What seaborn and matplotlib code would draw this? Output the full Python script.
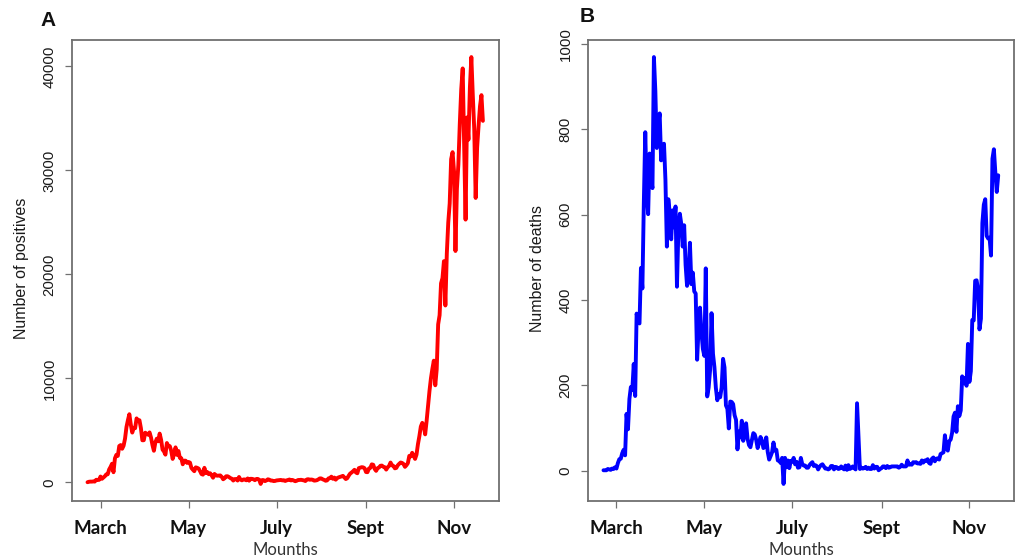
import matplotlib
matplotlib.use("Agg")
import matplotlib.pyplot as plt
import matplotlib.dates as mdates
import numpy as np
import pandas as pd
import seaborn as sns

# ---------------- data (daily values, 21 Feb - 21 Nov 2020) ----------------
start_date = "2020-02-21"
end_date = "2020-11-21"

pos_feb = [16, 60, 76, 74, 93, 78, 250, 238, 240]
pos_mar = [561, 342, 466, 587, 769, 778, 1247, 1492, 1797, 977, 2313, 2651, 2547, 3497, 3590, 3233,
           3526, 4207, 5322, 5986, 6557, 5560, 4789, 5249, 5210, 6153, 5959, 5974, 5217, 4050, 4053]
pos_apr = [4782, 4668, 4585, 4805, 4316, 3599, 3039, 3836, 4204, 3951, 4694, 4092, 3153, 2972, 2667,
           3786, 3493, 3491, 3047, 2256, 2729, 3370, 2646, 3021, 2357, 2324, 1739, 2091, 2086, 1872]
pos_may = [1965, 1900, 1389, 1221, 1075, 1444, 1401, 1327, 1083, 802, 744, 1402, 888, 992, 789, 875,
           675, 451, 813, 665, 642, 652, 669, 531, 300, 397, 584, 593, 516, 416, 355]
pos_jun = [178, 318, 321, 177, 518, 270, 197, 280, 283, 202, 379, 163, 346, 338, 301, 210, 329, 333,
           251, -148, 224, 218, 122, 190, 296, 259, 175, 174, 126, 142]
pos_jul = [187, 201, 223, 235, 192, 208, 138, 193, 229, 276, 188, 234, 169, 114, 162, 230, 233, 249,
           219, 190, 129, 282, 306, 252, 275, 255, 170, 181, 212, 289, 386]
pos_aug = [379, 295, 239, 159, 190, 384, 402, 552, 347, 463, 259, 412, 481, 523, 574, 629, 479, 320,
           403, 642, 845, 947, 1071, 1210, 953, 878, 1367, 1411, 1462, 1444, 1365]
pos_sep = [996, 978, 1326, 1397, 1733, 1695, 1297, 1108, 1370, 1434, 1597, 1616, 1501, 1458, 1229,
           1452, 1585, 1907, 1638, 1587, 1350, 1392, 1640, 1786, 1912, 1869, 1766, 1494, 1648, 1851]
pos_oct = [2548, 2499, 2844, 2578, 2257, 2677, 3678, 4458, 5372, 5724, 5456, 4619, 5901, 7332, 8804,
           10010, 10925, 11705, 9338, 10874, 15199, 16079, 19143, 19644, 21273, 17012, 21994, 24991,
           26831, 31084, 31758]
pos_nov = [29907, 22253, 28244, 30550, 34505, 37809, 39811, 32616, 25271, 35098, 32961, 37978, 40902,
           37255, 33979, 27354, 32191, 34283, 36176, 37242, 34767]

dea_feb = [1, 1, 1, 4, 3, 2, 5, 4, 8]
dea_mar = [5, 18, 27, 28, 41, 49, 36, 133, 97, 168, 196, 189, 250, 175, 368, 349, 345, 475, 427, 627,
           793, 651, 601, 743, 683, 662, 969, 889, 756, 812, 837]
dea_apr = [727, 760, 766, 681, 525, 636, 604, 542, 610, 570, 619, 431, 566, 602, 578, 525, 575, 482,
           433, 454, 534, 437, 464, 420, 415, 260, 333, 382, 323, 285]
dea_may = [269, 474, 174, 195, 236, 369, 274, 243, 194, 165, 179, 172, 195, 262, 242, 153, 145, 99,
           162, 161, 156, 130, 119, 50, 92, 78, 117, 70, 87, 111, 75]
dea_jun = [60, 55, 71, 88, 85, 72, 53, 65, 79, 71, 53, 56, 78, 44, 26, 34, 43, 66, 47, 49, 24, 23, 18,
           30, -31, 30, 8, 24, 6, 23]
dea_jul = [21, 30, 15, 21, 7, 8, 30, 15, 12, 12, 7, 7, 13, 17, 20, 11, 13, 11, 3, 9, 13, 15, 10, 5, 5,
           3, 5, 11, 11, 3, 9]
dea_aug = [8, 4, 5, 10, 6, 3, 12, 2, 13, 4, 6, 10, 6, 3, 158, 78, 4, 7, 5, 6, 9, 4, 7, 4, 4, 13, 5, 9,
           9, 1, 4]
dea_sep = [6, 10, 10, 6, 11, 7, 8, 10, 10, 10, 10, 10, 7, 9, 14, 10, 10, 10, 24, 14, 15, 14, 20, 19,
           20, 17, 17, 16, 24, 19]
dea_oct = [24, 23, 27, 18, 16, 28, 31, 22, 28, 29, 26, 39, 41, 43, 83, 55, 47, 69, 73, 89, 127, 136,
           91, 151, 128, 141, 221, 205, 217, 199, 297]
dea_nov = [208, 233, 353, 352, 445, 446, 425, 331, 356, 580, 623, 636, 550, 544, 546, 504, 731, 753,
           699, 653, 692]

tick_dates = ["2020-03-01", "2020-05-01", "2020-07-01", "2020-09-01", "2020-11-01"]
tick_labels = ["March", "May", "July", "Sept", "Nov"]
pos_yticks = [0, 10000, 20000, 30000, 40000]
dea_yticks = [0, 200, 400, 600, 800, 1000]

positives = (pos_feb + pos_mar + pos_apr + pos_may + pos_jun + pos_jul + pos_aug + pos_sep
             + pos_oct + pos_nov)
deaths = (dea_feb + dea_mar + dea_apr + dea_may + dea_jun + dea_jul + dea_aug + dea_sep
          + dea_oct + dea_nov)
dates = pd.date_range(start_date, end_date, freq="D")
df = pd.DataFrame({"date": dates, "positives": positives, "deaths": deaths})

# ---------------- style ----------------
sns.set_style("white")
plt.rcParams["font.family"] = ["Liberation Sans", "DejaVu Sans"]

W, H = 1017, 560
fig = plt.figure(figsize=(W / 100, H / 100), dpi=100)
fig.patch.set_facecolor("white")


def fx(px):
    return px / W


def fy(py):
    return 1 - py / H


def r_lim(vals):
    lo, hi = float(np.min(vals)), float(np.max(vals))
    d = (hi - lo) * 0.04
    return lo - d, hi + d


frame_col = "#707070"


def style_axes(ax, col, yticks, color):
    sns.lineplot(data=df, x="date", y=col, ax=ax, color=color, linewidth=2.8,
                 estimator=None, legend=False)
    xnum = mdates.date2num(df["date"])
    ax.set_xlim(*r_lim(xnum))
    ax.set_ylim(*r_lim(df[col].values))
    ax.set_xticks(mdates.date2num(pd.to_datetime(tick_dates)))
    ax.set_xticklabels(tick_labels, fontfamily=["Lato", "DejaVu Sans"], fontweight="bold",
                       fontsize=13.5, color="#111111")
    ax.set_yticks(yticks)
    ax.set_yticklabels([str(v) for v in yticks], rotation=90, va="center",
                       fontsize=10.8, color="#1a1a1a")
    ax.set_xlabel("")
    ax.set_ylabel("")
    for s in ax.spines.values():
        s.set_visible(True)
        s.set_color(frame_col)
        s.set_linewidth(1.3)
    ax.tick_params(axis="both", which="both", length=5, width=0.9, color=frame_col,
                   direction="out", bottom=True, left=True)
    ax.tick_params(axis="x", pad=9)
    ax.tick_params(axis="y", pad=6)
    ax.grid(False)
    ax.set_facecolor("white")


axA = fig.add_axes([fx(71.7), fy(501), fx(498.7 - 71.7), (501 - 40) / H])
axB = fig.add_axes([fx(587.7), fy(501), fx(1014 - 587.7), (501 - 40) / H])

style_axes(axA, "positives", pos_yticks, "#ff0000")
style_axes(axB, "deaths", dea_yticks, "#0000ff")

# axis titles
fig.text(fx(22), fy(268), "Number of positives", rotation=90, ha="center", va="center",
         fontsize=11.5, color="#1a1a1a")
fig.text(fx(538), fy(268), "Number of deaths", rotation=90, ha="center", va="center",
         fontsize=11.5, color="#1a1a1a")
fig.text(fx(285), fy(550), "Mounths", ha="center", va="center", fontsize=12,
         family=["Lato", "DejaVu Sans"], color="#333333")
fig.text(fx(801), fy(550), "Mounths", ha="center", va="center", fontsize=12,
         family=["Lato", "DejaVu Sans"], color="#333333")

# panel letters
fig.text(fx(48), fy(20), "A", ha="center", va="center", fontsize=15, fontweight="bold",
         color="#111111")
fig.text(fx(587), fy(16), "B", ha="center", va="center", fontsize=15, fontweight="bold",
         color="#111111")

fig.savefig("out.png", dpi=100, facecolor="white")
